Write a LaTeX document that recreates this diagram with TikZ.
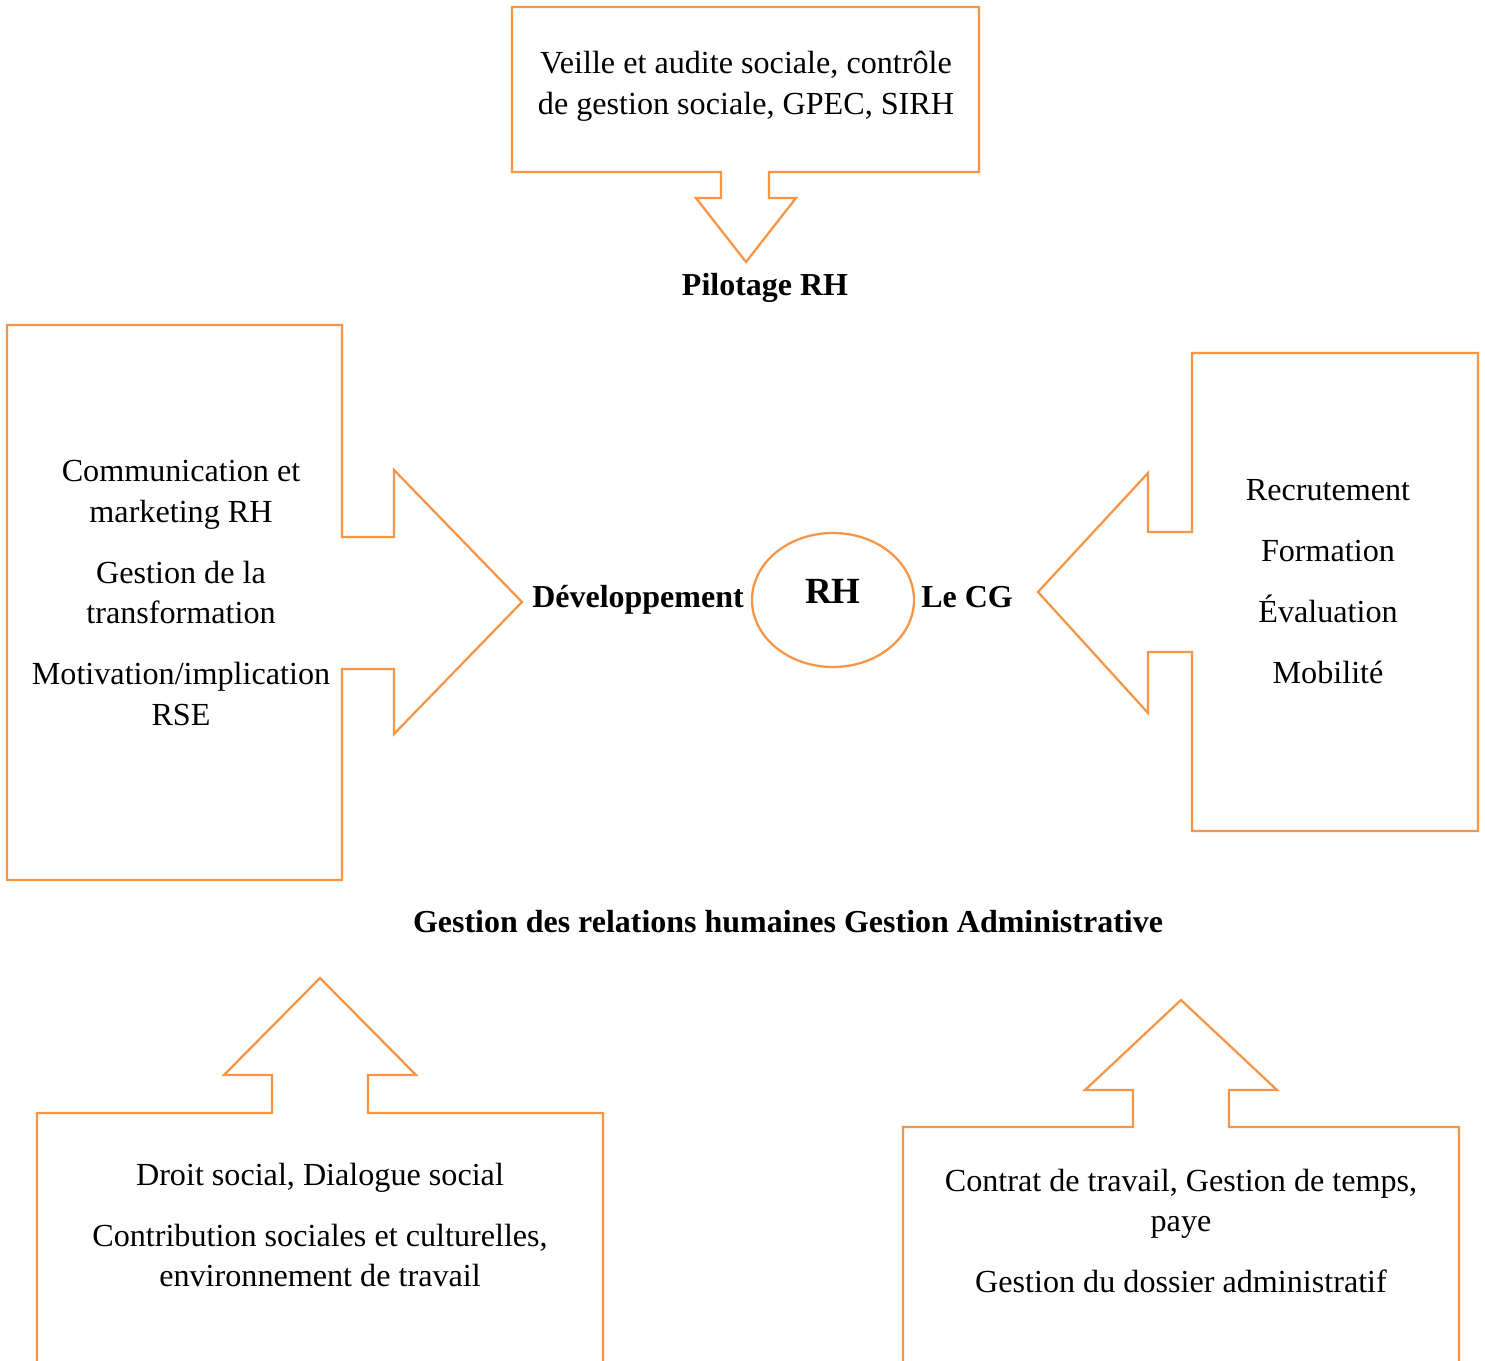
\documentclass[tikz,border=0pt]{standalone}
\usepackage{fontspec}
\setmainfont{Liberation Serif}
\usetikzlibrary{positioning}
\definecolor{calloutorange}{RGB}{247,150,70}

\begin{document}
\begin{tikzpicture}[x=0.02cm,y=-0.02cm,
    callout/.style={draw=calloutorange,line width=1.3pt,line join=miter},
    boxtext/.style={align=center,inner sep=0pt,font=\fontsize{18.3}{23.2}\selectfont},
    title/.style={inner sep=0pt,font=\fontsize{18.2}{23.2}\selectfont\bfseries}]
    \def\gap{11.5pt}
    \useasboundingbox (0,0) rectangle (1485,1361);
    % Top callout (arrow down)
    \draw[callout] (512,7) -- (979,7) -- (979,172) -- (769,172) -- (769,198) -- (796,198)
        -- (746,262) -- (696,198) -- (721,198) -- (721,172) -- (512,172) -- cycle;
    \node[boxtext] (veille) at (746,86) {Veille et audite sociale, contrôle\\de gestion sociale, GPEC, SIRH};
    \node[title] (pilotage) at (765,288) {Pilotage RH};
    % Left callout (arrow right)
    \draw[callout] (7,325) -- (342,325) -- (342,537) -- (394,537) -- (394,470) -- (522,602)
        -- (394,734) -- (394,669) -- (342,669) -- (342,880) -- (7,880) -- cycle;
    \node[boxtext] (develop) at (181,593) {Communication et\\marketing RH\\[\gap]Gestion de la\\transformation\\[\gap]Motivation/implication\\RSE};
    % Centre
    \draw[callout] (833,600) ellipse (81 and 67);
    \node[inner sep=0pt,font=\fontsize{21}{25}\selectfont\bfseries] (rh) at (833,591) {RH};
    \node[title] (developpement) at (638,600) {Développement};
    \node[title] (lecg) at (967,597) {Le CG};
    % Right callout (arrow left)
    \draw[callout] (1478,353) -- (1192,353) -- (1192,532) -- (1148,532) -- (1148,473) -- (1038,592)
        -- (1148,713) -- (1148,652) -- (1192,652) -- (1192,831) -- (1478,831) -- cycle;
    \node[boxtext] (cg) at (1328,582) {Recrutement\\[\gap]Formation\\[\gap]Évaluation\\[\gap]Mobilité};
    % Middle title
    \node[title] (gestion) at (788,922) {Gestion des relations humaines Gestion Administrative};
    % Bottom left callout (arrow up)
    \draw[callout] (37,1361) -- (37,1113) -- (272,1113) -- (272,1075) -- (224,1075) -- (320,978)
        -- (416,1075) -- (368,1075) -- (368,1113) -- (603,1113) -- (603,1361);
    \node[boxtext] (relations) at (320,1225) {Droit social, Dialogue social\\[\gap]Contribution sociales et culturelles,\\environnement de travail};
    % Bottom right callout (arrow up)
    \draw[callout] (903,1361) -- (903,1127) -- (1133,1127) -- (1133,1090) -- (1085,1090) -- (1181,1000)
        -- (1277,1090) -- (1229,1090) -- (1229,1127) -- (1459,1127) -- (1459,1361);
    \node[boxtext] (admin) at (1181,1231) {Contrat de travail, Gestion de temps,\\paye\\[\gap]Gestion du dossier administratif};
\end{tikzpicture}
\end{document}
